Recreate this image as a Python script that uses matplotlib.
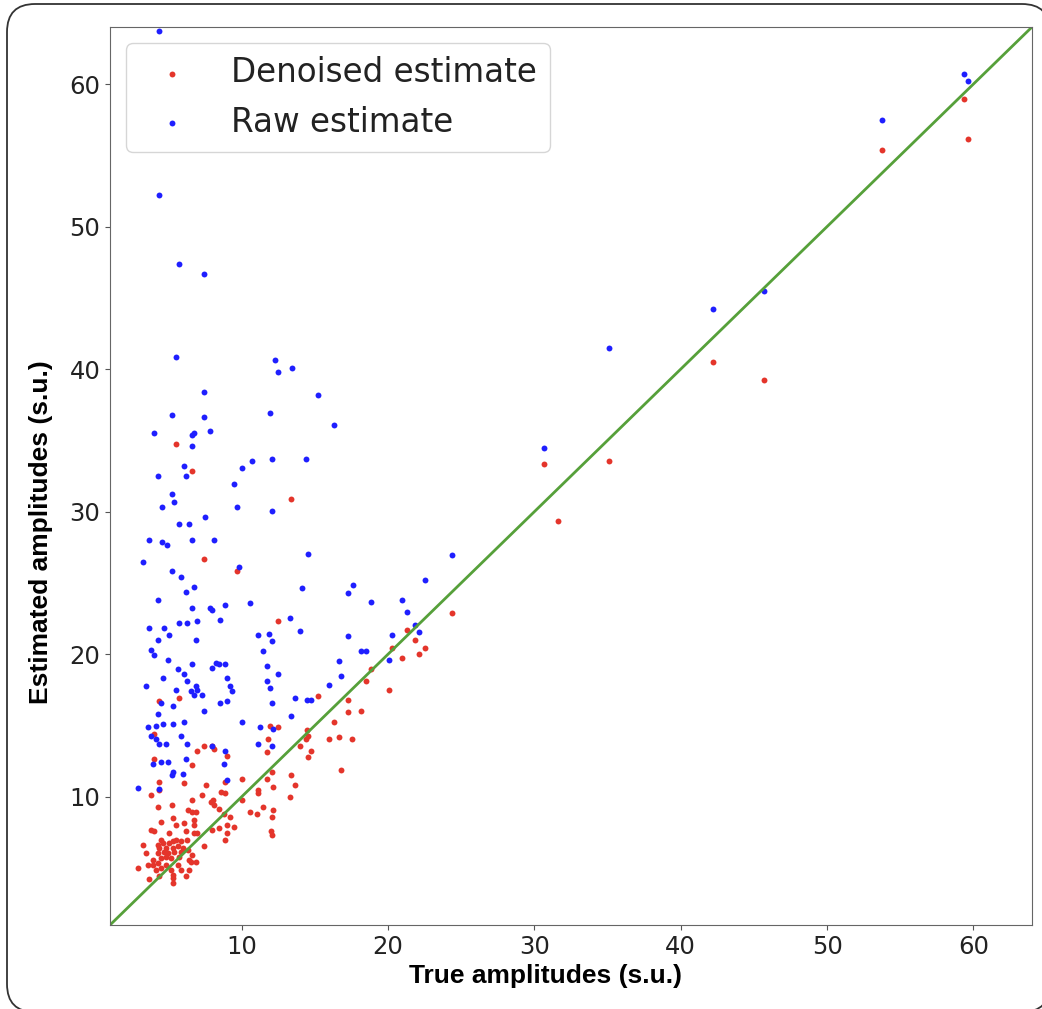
import matplotlib
matplotlib.use("Agg")
import matplotlib.pyplot as plt
from matplotlib import font_manager
from matplotlib.patches import FancyBboxPatch
from matplotlib.transforms import IdentityTransform

# raw estimate (blue): true amplitude, estimated amplitude
raw_true = [4.37, 4.37, 5.72, 7.43, 5.49, 12.26, 12.50, 13.42, 7.43, 15.22,
            16.33, 14.42, 14.53, 24.36, 14.10, 17.59, 17.25, 18.82, 22.55, 20.98,
            21.30, 13.99, 17.25, 20.30, 21.87, 22.10, 18.14, 18.48, 20.07, 16.67,
            16.79, 15.99, 14.45, 14.76, 30.67, 35.09, 42.20, 45.70, 53.72, 59.37,
            59.60, 5.26, 7.43, 11.94, 4.01, 6.74, 6.60, 7.86, 6.63, 6.06,
            4.26, 6.17, 10.02, 10.71, 12.05, 9.46, 5.26, 5.37, 4.57, 9.66,
            12.05, 7.51, 5.72, 6.40, 3.69, 4.57, 4.92, 6.63, 8.09, 3.24,
            5.26, 5.83, 9.80, 6.74, 6.17, 4.26, 6.63, 7.86, 7.97, 8.88,
            10.57, 5.72, 6.28, 6.97, 8.54, 13.28, 3.69, 4.69, 4.26, 5.05,
            6.86, 11.14, 11.85, 12.05, 11.48, 3.80, 4.03, 4.94, 6.63, 5.63,
            6.06, 6.28, 7.99, 8.22, 8.43, 8.88, 11.71, 12.50, 4.60, 9.00,
            3.46, 5.51, 6.54, 6.86, 6.97, 7.31, 6.74, 9.22, 9.34, 11.71,
            11.94, 4.49, 5.29, 8.54, 9.00, 12.05, 13.63, 7.43, 4.26, 13.39,
            10.02, 3.58, 4.14, 4.60, 5.29, 6.08, 11.27, 12.16, 3.80, 4.14,
            5.83, 4.37, 4.83, 6.28, 7.97, 8.88, 11.14, 12.05, 3.92, 4.49,
            4.94, 6.20, 8.77, 5.29, 5.26, 5.97, 2.89, 4.37, 9.00]
raw_est = [63.70, 52.23, 47.35, 46.65, 40.84, 40.61, 39.79, 40.05, 38.41, 38.18,
           36.09, 33.66, 27.04, 26.93, 24.61, 24.82, 24.26, 23.67, 25.19, 23.79,
           22.97, 21.61, 21.24, 21.35, 22.04, 21.57, 20.21, 20.21, 19.60, 19.51,
           18.46, 17.87, 16.82, 16.82, 34.48, 41.45, 44.21, 45.47, 57.45, 60.70,
           60.21, 36.77, 36.65, 36.89, 35.51, 35.51, 35.39, 35.63, 34.58, 33.19,
           32.49, 32.49, 33.07, 33.54, 33.66, 31.91, 31.23, 30.65, 30.30, 30.30,
           30.06, 29.59, 29.12, 29.12, 27.98, 27.86, 27.63, 27.98, 27.98, 26.46,
           25.87, 25.40, 26.11, 24.72, 24.37, 23.79, 23.21, 23.21, 23.09, 23.44,
           23.56, 22.18, 22.18, 22.30, 22.41, 22.53, 21.83, 21.83, 21.00, 21.33,
           21.00, 21.33, 21.45, 20.89, 20.19, 20.30, 19.95, 19.60, 19.28, 18.93,
           18.58, 18.11, 19.04, 19.39, 19.28, 19.28, 19.16, 18.58, 18.34, 18.34,
           17.78, 17.52, 17.40, 17.76, 17.52, 17.17, 17.17, 17.76, 17.40, 18.11,
           17.64, 16.58, 16.35, 16.58, 16.70, 16.58, 16.93, 16.00, 15.77, 15.67,
           15.21, 14.86, 14.97, 15.09, 15.09, 15.21, 14.86, 14.74, 14.27, 14.04,
           14.27, 13.68, 13.68, 13.68, 13.57, 13.24, 13.68, 13.57, 12.30, 12.42,
           12.42, 12.65, 12.30, 11.72, 11.51, 11.60, 10.58, 10.55, 11.16]

# denoised estimate (red)
den_true = [5.49, 6.63, 13.39, 7.43, 9.66, 12.50, 24.36, 21.30, 21.87, 22.55,
            22.10, 20.98, 20.28, 18.82, 18.50, 20.07, 15.22, 17.25, 17.25, 18.14,
            16.33, 14.45, 14.53, 14.42, 15.99, 16.67, 17.56, 14.76, 14.53, 16.79,
            13.99, 30.67, 35.09, 31.60, 42.20, 45.70, 53.72, 59.37, 59.60, 4.37,
            5.72, 6.97, 7.43, 7.99, 8.09, 9.00, 6.63, 4.03, 4.03, 12.50,
            11.94, 11.82, 11.71, 12.05, 13.39, 13.63, 13.28, 11.71, 12.16, 11.14,
            11.14, 10.02, 8.88, 7.54, 6.06, 4.37, 4.37, 3.80, 7.31, 8.59,
            8.88, 7.88, 8.02, 8.11, 6.63, 4.26, 5.24, 6.31, 6.63, 6.86,
            8.43, 10.02, 10.59, 11.05, 11.48, 12.16, 12.05, 4.49, 5.29, 6.74,
            6.74, 5.51, 6.08, 8.77, 9.22, 9.46, 9.00, 7.99, 8.43, 3.80,
            4.03, 5.05, 6.20, 6.74, 6.97, 12.03, 12.07, 9.00, 8.88, 5.51,
            4.49, 4.26, 4.60, 5.05, 5.29, 5.85, 6.28, 3.24, 7.43, 4.37,
            4.83, 5.29, 5.63, 5.97, 3.48, 4.26, 4.71, 4.94, 5.40, 5.85,
            6.31, 3.92, 4.49, 4.83, 5.17, 5.72, 6.63, 6.40, 6.54, 6.86,
            3.58, 3.92, 4.26, 4.83, 5.63, 4.49, 2.89, 4.12, 5.17, 5.85,
            6.40, 5.29, 4.37, 3.69, 5.29, 6.17, 5.29]
den_est = [34.72, 32.84, 30.88, 26.69, 25.87, 22.30, 22.86, 21.68, 21.00, 20.44,
           19.98, 19.74, 20.40, 18.93, 18.11, 17.52, 17.07, 16.82, 15.91, 16.02,
           15.21, 14.67, 14.27, 14.04, 14.04, 14.16, 14.04, 13.24, 12.77, 11.84,
           13.57, 33.31, 33.54, 29.35, 40.51, 39.23, 55.37, 58.95, 56.16, 16.70,
           16.93, 13.21, 13.57, 13.57, 13.33, 12.89, 12.19, 14.39, 12.65, 14.86,
           14.97, 14.04, 13.12, 11.72, 11.49, 10.81, 9.99, 11.25, 10.69, 10.46,
           10.23, 11.25, 11.02, 10.79, 10.93, 11.02, 10.46, 10.11, 10.11, 10.32,
           10.23, 9.64, 9.76, 9.40, 9.76, 9.28, 9.40, 9.05, 8.93, 8.93,
           9.17, 9.76, 8.91, 8.82, 9.28, 9.05, 8.58, 8.26, 8.49, 8.35,
           8.02, 8.02, 8.14, 8.82, 8.61, 7.91, 8.02, 7.67, 7.79, 7.67,
           7.56, 7.44, 7.56, 7.44, 7.44, 7.56, 7.32, 7.44, 6.97, 6.97,
           6.97, 6.62, 6.74, 6.74, 6.86, 6.86, 6.97, 6.62, 6.51, 6.39,
           6.39, 6.39, 6.51, 6.39, 6.04, 6.04, 6.15, 6.04, 6.15, 6.15,
           6.27, 5.59, 5.71, 5.80, 5.71, 5.80, 5.92, 5.56, 5.45, 5.45,
           5.24, 5.24, 5.35, 5.24, 5.24, 5.00, 5.00, 4.89, 4.89, 4.89,
           4.89, 4.54, 4.42, 4.21, 4.30, 4.42, 3.95]

lims = [1.0, 64.0]

names = {f.name for f in font_manager.fontManager.ttflist}
if 'Liberation Sans Narrow' in names:
    label_font, label_size = 'Liberation Sans Narrow', 23
else:
    label_font, label_size = 'Liberation Sans', 19

fig = plt.figure(figsize=(10.42, 10.09), dpi=100)
ax = fig.add_axes([110 / 1042, 1 - 925 / 1009, 922 / 1042, 898 / 1009])

ax.scatter(den_true, den_est, s=18, c='#e4352b', linewidths=0, label='Denoised estimate')
ax.scatter(raw_true, raw_est, s=18, c='#1f1fff', linewidths=0, label='Raw estimate')
ax.plot(lims, lims, color='#56a03a', lw=2)

ax.set_xlim(lims)
ax.set_ylim(lims)
ax.set_xticks([10, 20, 30, 40, 50, 60])
ax.set_yticks([10, 20, 30, 40, 50, 60])
ax.tick_params(labelsize=17.5, colors='#555555', labelcolor='#222222')
for sp in ax.spines.values():
    sp.set_color('#666666')

ax.set_xlabel('True amplitudes (s.u.)', fontsize=label_size, fontfamily=label_font,
              fontweight='bold')
ax.set_ylabel('Estimated amplitudes (s.u.)', fontsize=label_size, fontfamily=label_font,
              fontweight='bold')
ax.xaxis.set_label_coords(0.472, -0.043)
ax.yaxis.set_label_coords(-0.062, 0.438)

leg = ax.legend(loc='upper left', fontsize=23.5)
for t in leg.get_texts():
    t.set_color('#222222')

# rounded screenshot frame (filled white behind the axes so the corners are not clipped oddly)
frame = FancyBboxPatch((7, -3), 1043, 1008, boxstyle='round,pad=0,rounding_size=28',
                       transform=IdentityTransform(), facecolor='white', edgecolor='#333333',
                       lw=1.3, zorder=-10)
fig.add_artist(frame)

fig.savefig('out.png', dpi=100)
